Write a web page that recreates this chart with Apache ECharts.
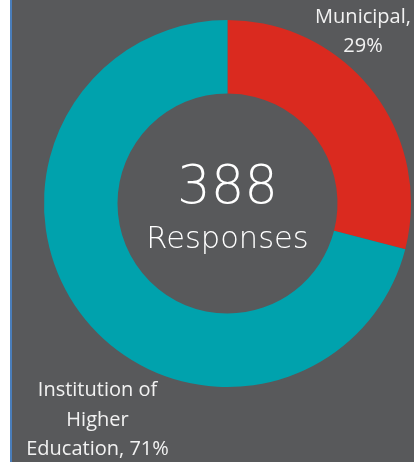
<!DOCTYPE html>
<html>
<head>
<meta charset="utf-8">
<script src="https://cdn.jsdelivr.net/npm/echarts@6/dist/echarts.min.js"></script>
<style>
html,body{margin:0;padding:0;background:#ffffff;}
#chart{width:414px;height:462px;}
</style>
</head>
<body>
<div id="chart"></div>
<script>
var categories = ['Municipal', 'Institution of Higher Education'];
var values = [29, 71];
var colors = ['#da2a1f', '#00a2ad'];
var totalResponses = 388;
var centerCaption = 'Responses';

var chart = echarts.init(document.getElementById('chart'), null, {renderer: 'canvas'});
var labelPos = [
  {x: 363, y: 32, align: 'center', verticalAlign: 'middle'},
  {x: 97.5, y: 420, align: 'center', verticalAlign: 'middle'}
];
chart.setOption({
  backgroundColor: '#58595b',
  animation: false,
  graphic: [
    {type: 'rect', left: 0, top: 0, shape: {width: 10, height: 462}, style: {fill: '#ffffff'}, silent: true},
    {type: 'rect', left: 10, top: 0, shape: {width: 2, height: 462}, style: {fill: '#4a7ebb'}, silent: true},
    {type: 'text', x: 227.5, y: 189, style: {text: String(totalResponses), fill: '#ffffff', font: '300 53px "DejaVu Sans ExtraLight", "DejaVu Sans"', textAlign: 'center', textVerticalAlign: 'middle'}},
    {type: 'text', x: 227.5, y: 240, style: {text: centerCaption, fill: '#ffffff', font: '300 30.5px "DejaVu Sans ExtraLight", "DejaVu Sans"', textAlign: 'center', textVerticalAlign: 'middle'}}
  ],
  series: [{
    type: 'pie',
    center: [227.5, 203.5],
    radius: [110, 183.5],
    startAngle: 90,
    clockwise: true,
    silent: true,
    avoidLabelOverlap: false,
    data: categories.map(function (c, i) {
      return {name: c, value: values[i], itemStyle: {color: colors[i]}};
    }),
    label: {
      show: true,
      position: 'inside',
      overflow: 'none',
      color: '#f2f2f2',
      fontFamily: '"Open Sans", "Noto Sans", sans-serif',
      fontSize: 20,
      lineHeight: 29.5,
      align: 'center',
      formatter: function (p) {
        if (p.dataIndex === 1) {
          return 'Institution of\nHigher\nEducation, ' + Math.round(p.percent) + '%';
        }
        return p.name + ',\n' + Math.round(p.percent) + '%';
      }
    },
    labelLine: {show: false},
    labelLayout: function (params) {
      return labelPos[params.dataIndex];
    }
  }]
});
</script>
</body>
</html>
